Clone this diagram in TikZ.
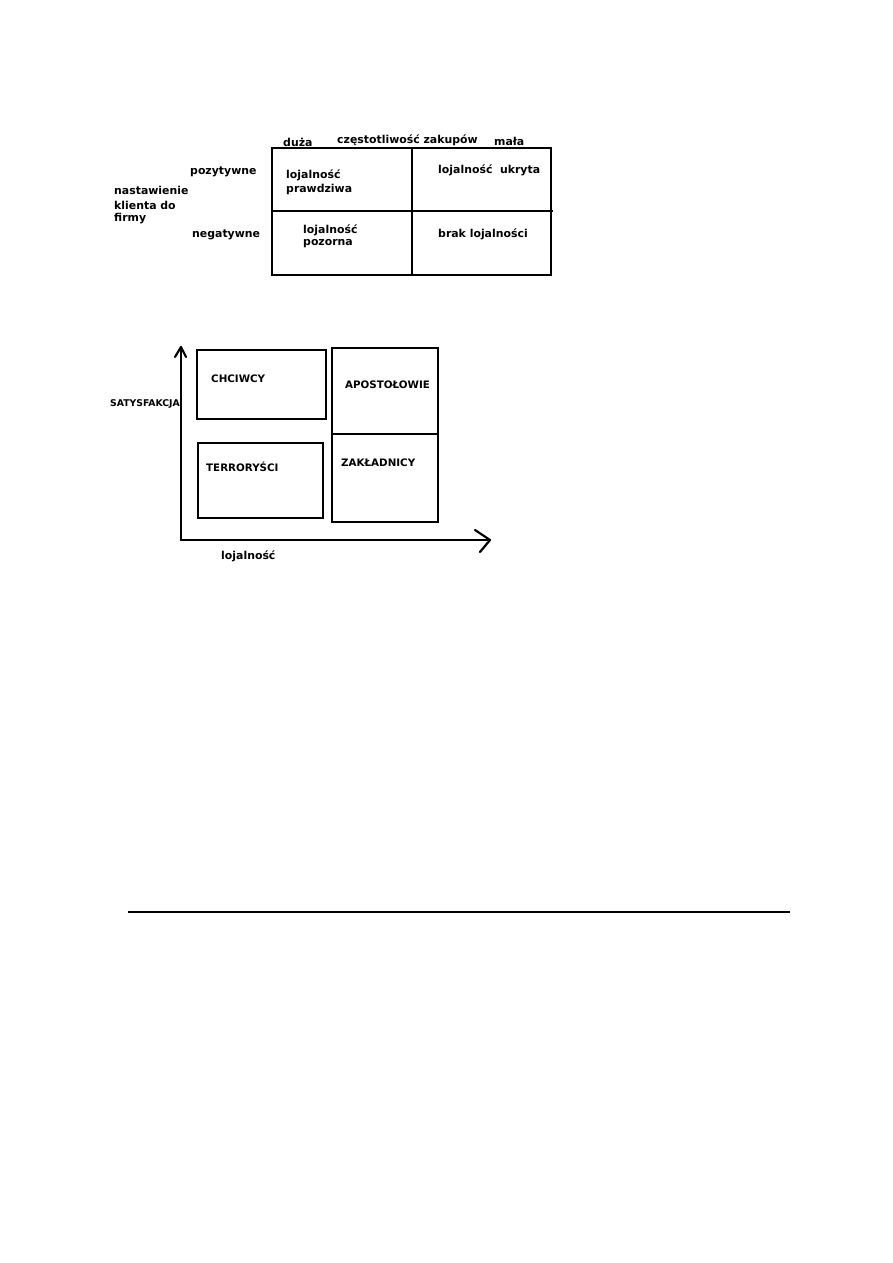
\documentclass[tikz,border=0pt]{standalone}
\usepackage{fontspec}
\setmainfont{DejaVu Sans}
\begin{document}
\begin{tikzpicture}[x=1pt,y=-1pt,
  lbl/.style={anchor=west,inner sep=0pt,font=\fontsize{10.9}{13}\selectfont\bfseries},
  lblcap/.style={anchor=west,inner sep=0pt,font=\fontsize{10.3}{12}\selectfont\bfseries},
  lblsm/.style={anchor=west,inner sep=0pt,font=\fontsize{9.3}{10}\selectfont\bfseries},
  frame/.style={line width=2.4pt},
  ax/.style={line width=2.2pt,line cap=round,line join=round}]
\useasboundingbox (0,0) rectangle (893,1263);
% ---- table 1
\draw[frame] (272,148) rectangle (551,275);
\draw[frame] (412,148) -- (412,275);
\draw[frame] (272,211) -- (553,211);
\node[lbl] (duza) at (283,142) {duża};
\node[lbl] (czest) at (337,140) {częstotliwość zakupów};
\node[lbl] (mala) at (494,141) {mała};
\node[lbl] (poz) at (190,172) {pozytywne};
\node[lbl] (nast) at (114,190) {nastawienie};
\node[lbl] (klie) at (114,205) {klienta do};
\node[lbl] (firm) at (114,219) {firmy};
\node[lbl] (neg) at (192,235) {negatywne};
\node[lbl] (lp1) at (286,175) {lojalność};
\node[lbl] (lp2) at (286,189) {prawdziwa};
\node[lbl] (lu) at (438,170) {lojalność\ \ ukryta};
\node[lbl] (lz1) at (303,230) {lojalność};
\node[lbl] (lz2) at (303,244) {pozorna};
\node[lbl] (bl) at (438,234) {brak lojalności};
% ---- chart 2
\coordinate (O) at (181,540);
\coordinate (Y) at (181,347);
\coordinate (X) at (490,540);
\draw[ax] (O) -- (Y);
\draw[ax] (O) -- (X);
\draw[ax] (175,357) -- (Y) -- (186,357);
\draw[ax] (475,530) -- (X) -- (480,552);
\draw[frame] (197,350) rectangle (326,419);
\draw[frame] (198,443) rectangle (323,518);
\draw[frame] (332,348) rectangle (438,522);
\draw[frame] (332,434) -- (438,434);
\node[lblcap] (chc) at (211,379) {CHCIWCY};
\node[lblcap] (apo) at (345,385) {APOSTOŁOWIE};
\node[lblsm] (sat) at (110,404) {SATYSFAKCJA};
\node[lblcap] (ter) at (206,467) {TERRORYŚCI};
\node[lblcap] (zak) at (341,463) {ZAKŁADNICY};
\node[lbl] (loj) at (221,556) {lojalność};
% ---- rule
\draw[line width=2.4pt] (128,912) -- (790,912);
\end{tikzpicture}
\end{document}
